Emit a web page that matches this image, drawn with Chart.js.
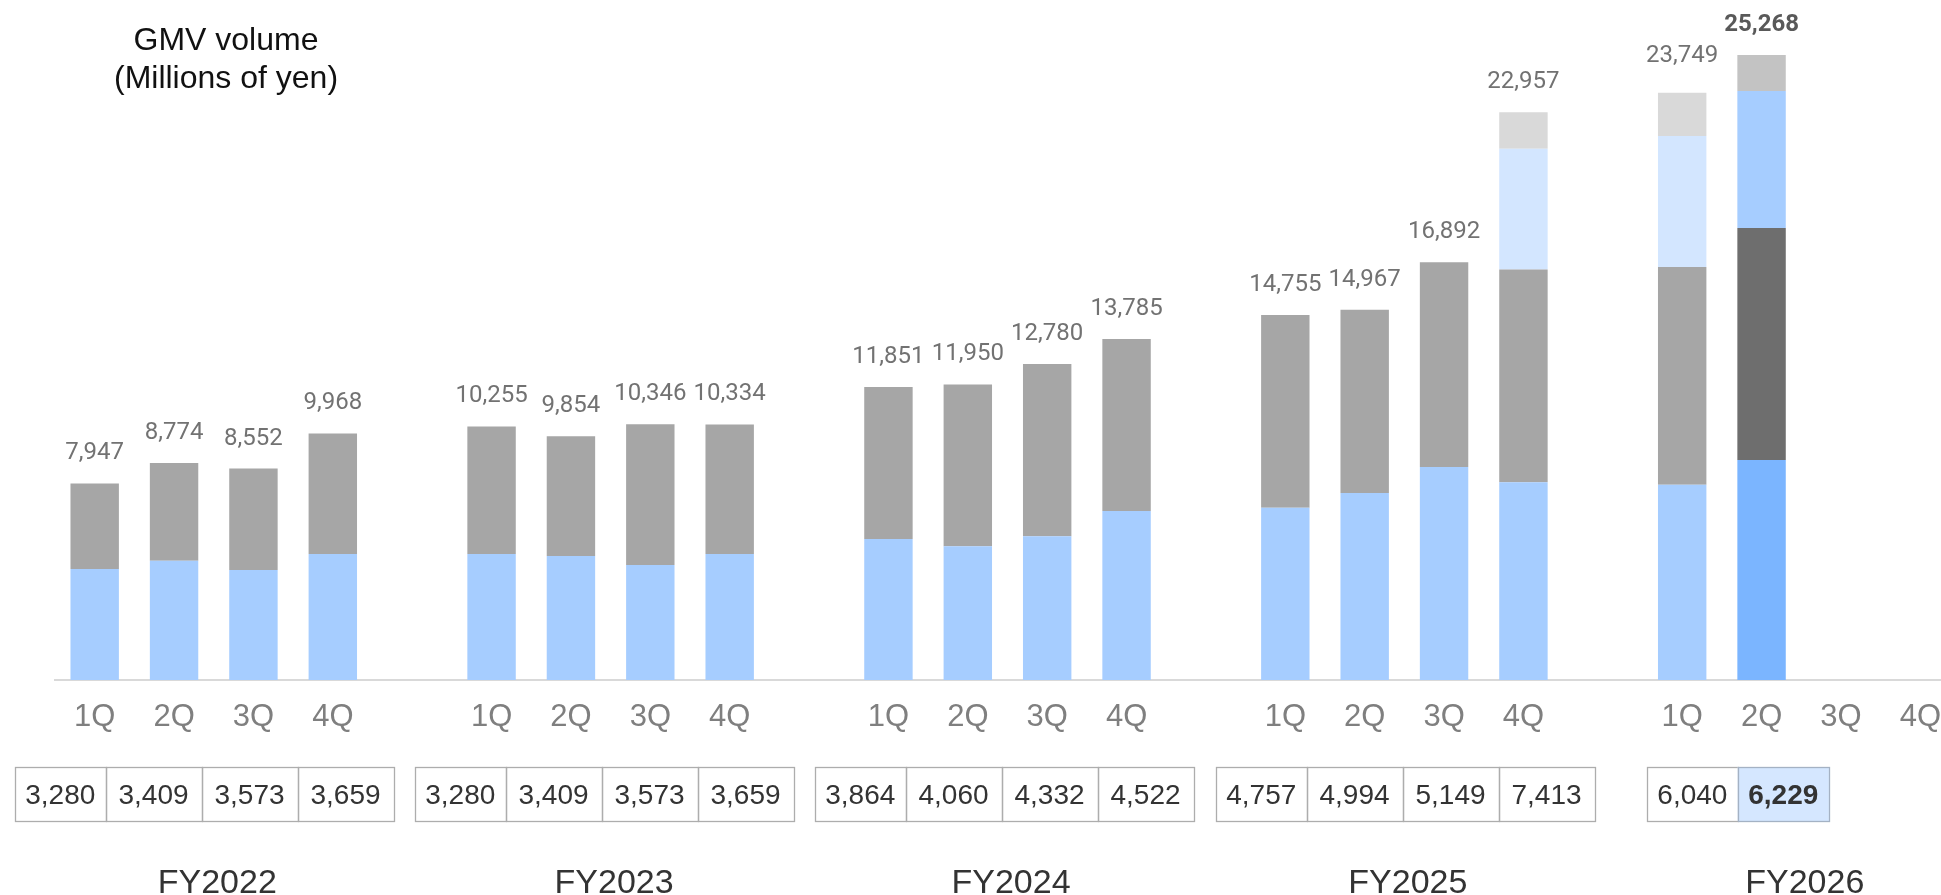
<!DOCTYPE html>
<html>
<head>
<meta charset="utf-8">
<script src="https://cdn.jsdelivr.net/npm/chart.js@4.4.1/dist/chart.umd.min.js"></script>
<style>
  html, body { margin: 0; padding: 0; overflow: hidden; background: #ffffff; }
  #wrap { position: relative; width: 1962px; height: 895px; }
</style>
</head>
<body>
<div id="wrap"><canvas id="c"></canvas></div>
<script>
// ---------- DATA ----------
const quarterLabels = ['1Q','2Q','3Q','4Q','', '1Q','2Q','3Q','4Q','', '1Q','2Q','3Q','4Q','', '1Q','2Q','3Q','4Q','', '1Q','2Q','3Q','4Q'];
const fiscalYears = ['FY2022','FY2023','FY2024','FY2025','FY2026'];

// stacked segments (millions of yen), bottom to top
const segmentBase   = [4490,4826,4450,5097,null, 5097,5016,4652,5097,null, 5703,5408,5813,6836,null, 6970,7564,8616,7997,null, 7900,8900,null,null];
const segmentSecond = [3457,3948,4102,4871,null, 5158,4838,5694,5237,null, 6148,6542,6967,6949,null, 7785,7403,8276,8600,null, 8800,9380,null,null];
const segmentThird  = [null,null,null,null,null, null,null,null,null,null, null,null,null,null,null, null,null,null,4882,null, 5300,5540,null,null];
const segmentFourth = [null,null,null,null,null, null,null,null,null,null, null,null,null,null,null, null,null,null,1478,null, 1749,1448,null,null];

// total GMV labels
const totalGMV = [7947,8774,8552,9968,null, 10255,9854,10346,10334,null, 11851,11950,12780,13785,null, 14755,14967,16892,22957,null, 23749,25268,null,null];

// table values under each fiscal year
const tableFY2022 = [3280,3409,3573,3659];
const tableFY2023 = [3280,3409,3573,3659];
const tableFY2024 = [3864,4060,4332,4522];
const tableFY2025 = [4757,4994,5149,7413];
const tableFY2026 = [6040,6229];
const tables = [tableFY2022, tableFY2023, tableFY2024, tableFY2025, tableFY2026];

// ---------- STYLE / LAYOUT ----------
let latestIndex = 0;
totalGMV.forEach((v,i)=>{ if (v != null) latestIndex = i; });

const colorsFor = (normal, highlight) => quarterLabels.map((_, i) => i === latestIndex ? highlight : normal);

const labelGap = 24;             // px between label baseline and bar top
const labelGapOverride = { 20: 31 };

const tableLayout = {
  top: 767, bottom: 821,
  lefts: [15, 415, 815, 1216, 1647],
  widths: [[90.5,96,96,96],[90.5,96,96,96],[90.5,96,96,96],[90.5,96,96,96],[90.7,91.2]]
};

const fmt = v => v.toLocaleString('en-US');

const overlay = {
  id: 'overlay',
  afterDatasetsDraw(chart) {
    const { ctx, scales: { x, y } } = chart;
    ctx.save();

    // totals above bars
    ctx.textAlign = 'center';
    ctx.textBaseline = 'alphabetic';
    totalGMV.forEach((v, i) => {
      if (v == null) return;
      const bold = i === latestIndex;
      ctx.font = (bold ? 'bold ' : '') + '24px Roboto, "Liberation Sans", sans-serif';
      ctx.fillStyle = bold ? '#595959' : '#727272';
      const gap = labelGapOverride[i] !== undefined ? labelGapOverride[i] : labelGap;
      ctx.fillText(fmt(v), x.getPixelForValue(i), y.getPixelForValue(v) - gap);
    });

    // title
    ctx.fillStyle = '#111111';
    ctx.font = '32px "Liberation Sans", Arial, sans-serif';
    ctx.fillText('GMV volume', 226, 50);
    ctx.fillText('(Millions of yen)', 226, 88);

    // tables
    tables.forEach((vals, g) => {
      let left = tableLayout.lefts[g];
      vals.forEach((v, k) => {
        const w = tableLayout.widths[g][k];
        const hl = (g === tables.length - 1 && k === vals.length - 1);
        if (hl) {
          ctx.fillStyle = '#D5E7FF';
          ctx.fillRect(left, tableLayout.top, w, tableLayout.bottom - tableLayout.top);
        }
        ctx.strokeStyle = hl ? '#A4B2C4' : '#ADADAD';
        ctx.lineWidth = 1.3;
        ctx.strokeRect(Math.round(left) + 0.5, tableLayout.top + 0.5, Math.round(w), tableLayout.bottom - tableLayout.top);
        ctx.fillStyle = '#333333';
        ctx.font = (hl ? 'bold ' : '') + '28px "Liberation Sans", Arial, sans-serif';
        ctx.textAlign = 'center';
        ctx.fillText(fmt(v), left + w / 2, 804);
        left += w;
      });
    });

    // fiscal year labels
    ctx.fillStyle = '#333333';
    ctx.font = '34px "Liberation Sans", Arial, sans-serif';
    fiscalYears.forEach((fy, g) => {
      const cx = (x.getPixelForValue(g * 5 + 1) + x.getPixelForValue(g * 5 + 2)) / 2 + 3.5;
      ctx.fillText(fy, cx, 893);
    });

    ctx.restore();
  }
};

new Chart(document.getElementById('c'), {
  type: 'bar',
  data: {
    labels: quarterLabels,
    datasets: [
      { label: 'base',   data: segmentBase,   backgroundColor: colorsFor('#A6CDFF', '#7BB5FF') },
      { label: 'second', data: segmentSecond, backgroundColor: colorsFor('#A6A6A6', '#6E6E6E') },
      { label: 'third',  data: segmentThird,  backgroundColor: colorsFor('#D3E6FF', '#A6CDFF') },
      { label: 'fourth', data: segmentFourth, backgroundColor: colorsFor('#D9D9D9', '#C3C3C3') }
    ]
  },
  options: {
    responsive: true,
    maintainAspectRatio: false,
    animation: false,
    layout: { padding: { left: 55, right: 2, top: 37, bottom: 0 } },
    datasets: { bar: { barPercentage: 0.61, categoryPercentage: 1.0, borderWidth: 0 } },
    plugins: { legend: { display: false }, tooltip: { enabled: false }, title: { display: false } },
    scales: {
      x: {
        stacked: true,
        grid: { display: false, drawTicks: false },
        border: { display: true, color: '#D9D9D9', width: 2 },
        ticks: {
          autoSkip: false, maxRotation: 0, padding: 19,
          color: '#7F7F7F',
          font: { family: '"Liberation Sans", Arial, sans-serif', size: 31 }
        },
        afterFit(scale) { scale.height = 215; }
      },
      y: {
        stacked: true,
        display: false,
        min: 0,
        max: 26000
      }
    }
  },
  plugins: [overlay]
});
</script>
</body>
</html>
